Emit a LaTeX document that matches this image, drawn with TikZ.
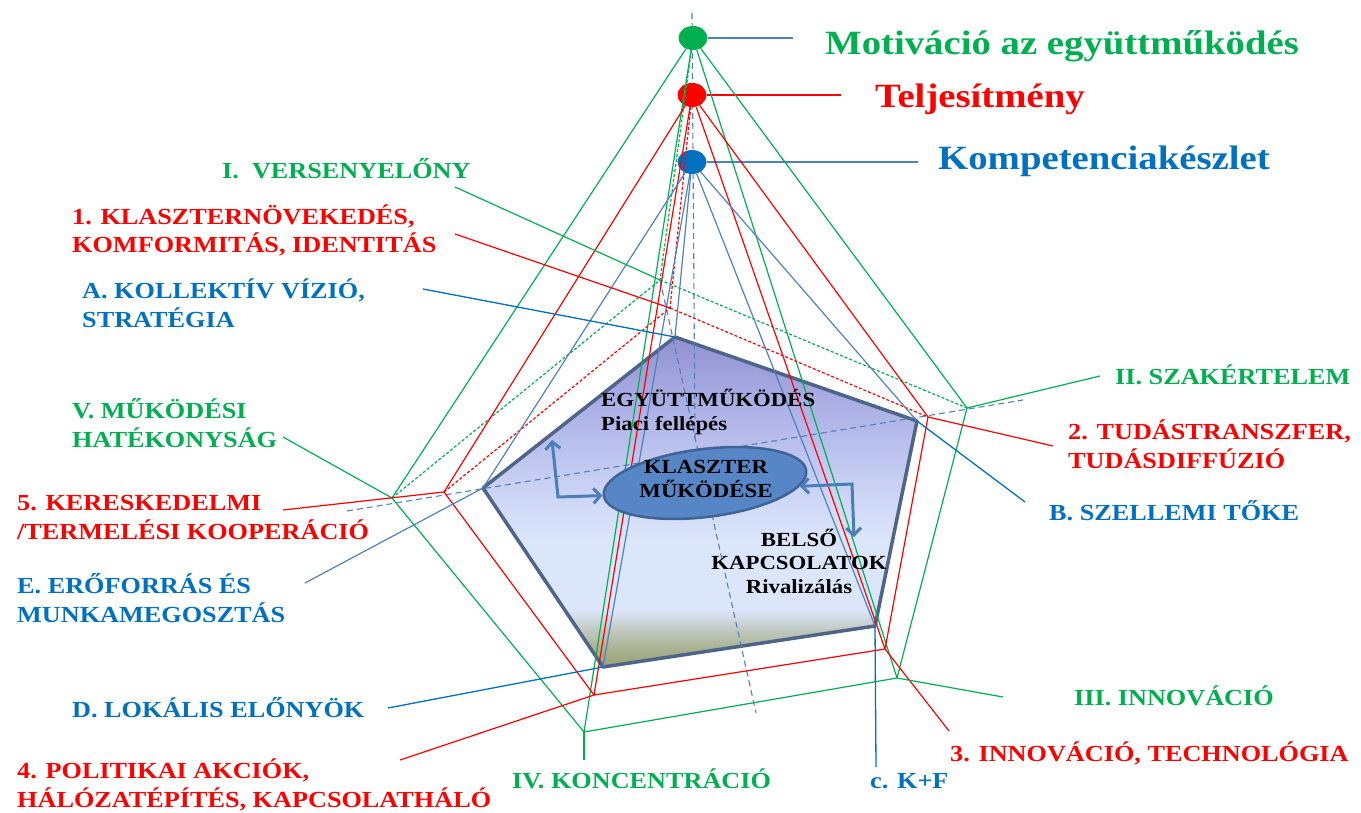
\documentclass[tikz,border=0pt]{standalone}
\usepackage{fontspec}
\setmainfont{Liberation Serif}[FakeStretch=1.14]
\usepackage{tikz}
\usetikzlibrary{arrows.meta, shapes.geometric}
\definecolor{tgreen}{HTML}{00B050}
\definecolor{tred}{HTML}{FF0000}
\definecolor{tblue}{HTML}{0070C0}
\definecolor{lblue}{HTML}{4F81BD}
\definecolor{pentedge}{HTML}{4E6589}
\definecolor{corefill}{HTML}{5686C6}
\definecolor{coreedge}{HTML}{3E6497}
\definecolor{arrowblue}{HTML}{4A7EBB}
\definecolor{ptop}{HTML}{9191D0}
\definecolor{pupper}{HTML}{A9ADE4}
\definecolor{pmid}{HTML}{BCC2EE}
\definecolor{pmid2}{HTML}{CFD7F6}
\definecolor{plight}{HTML}{DCE6FA}
\definecolor{pgreen}{HTML}{C0C8C0}
\definecolor{polive}{HTML}{A8B08E}
\definecolor{pbot}{HTML}{98A276}
\pgfdeclareverticalshading{pentshade}{100bp}{color(0bp)=(pbot); color(25bp)=(pbot); color(27.6bp)=(polive); color(30.6bp)=(pgreen); color(33.6bp)=(plight); color(44bp)=(plight); color(50.3bp)=(pmid2); color(57.9bp)=(pmid); color(65.5bp)=(pupper); color(75bp)=(ptop); color(100bp)=(ptop)}
\tikzset{apex/.style = {shape = ellipse, minimum width = 29pt, minimum height = 24pt, inner sep = 0pt}}
\tikzset{gedge/.style = {draw = tgreen, line width = 1.2pt}}
\tikzset{redge/.style = {draw = tred, line width = 1.2pt}}
\tikzset{bedge/.style = {draw = lblue, line width = 1.2pt}}
\tikzset{lead/.style = {draw = tblue, line width = 1.3pt}}
\tikzset{hiddenedge/.style = {dash pattern = on 3pt off 2pt}}
\tikzset{axisline/.style = {draw = lblue, line width = 1.1pt, dash pattern = on 6pt off 4pt}}
\tikzset{pentline/.style = {draw = pentedge, line width = 3.5pt, line join = round}}
\tikzset{core/.style = {shape = ellipse, fill = corefill, draw = coreedge, line width = 2.5pt, minimum width = 204pt, minimum height = 68pt, inner sep = 0pt}}
\tikzset{flow/.style = {draw = arrowblue, line width = 3pt, <->, >={Straight Barb[length=7pt, width=15pt]}}}
\tikzset{sidetext/.style = {font = \fontsize{23}{28.5}\selectfont\bfseries, align = left, anchor = base west, inner sep = 0pt}}
\tikzset{toptext/.style = {font = \fontsize{34}{40}\selectfont\bfseries, anchor = base west, inner sep = 0pt}}
\tikzset{intext/.style = {font = \fontsize{20}{23.5}\selectfont\bfseries, inner sep = 0pt}}

\begin{document}
\begin{tikzpicture}[x = 1pt, y = -1pt]
	\useasboundingbox (0, 0) rectangle (1361, 813);

	% bases of the three pyramids
	\coordinate (gK) at (660, 280);
	\coordinate (gR) at (967, 408);
	\coordinate (gBR) at (897, 678);
	\coordinate (gBL) at (584, 732);
	\coordinate (gL) at (392, 498);
	\coordinate (rK) at (670, 308);
	\coordinate (rR) at (928, 417);
	\coordinate (rBR) at (885, 649);
	\coordinate (rBL) at (594, 695);
	\coordinate (rL) at (444, 492);
	\coordinate (p1) at (675, 337);
	\coordinate (p2) at (917, 421);
	\coordinate (p3) at (875, 626);
	\coordinate (p4) at (603, 667);
	\coordinate (p5) at (483, 488);

	% axes
	\coordinate (axT) at (692, 13);
	\coordinate (axC) at (695, 440);
	\coordinate (axB) at (756, 713);
	\coordinate (axL) at (347, 511);
	\coordinate (axR) at (1023, 400);

	% free ends of the leaders
	\coordinate (gtag) at (793, 38);
	\coordinate (rtag) at (841, 95);
	\coordinate (btag) at (918, 162);
	\coordinate (endI) at (455, 187);
	\coordinate (end1) at (455, 234);
	\coordinate (endA) at (423, 289);
	\coordinate (endV) at (283, 437);
	\coordinate (end5) at (283, 510);
	\coordinate (endE) at (305, 583);
	\coordinate (endD) at (388, 708);
	\coordinate (end4) at (400, 760);
	\coordinate (endIV) at (584, 760);
	\coordinate (endC) at (876, 767);
	\coordinate (end3) at (949, 731);
	\coordinate (endIII) at (1003, 697);
	\coordinate (endB) at (1025, 502);
	\coordinate (end2) at (1053, 446);
	\coordinate (endII) at (1100, 376);

	\shade[shading = pentshade] (p1) -- (p2) -- (p3) -- (p4) -- (p5) -- cycle;
	\draw[pentline] (p1) -- (p2) -- (p3) -- (p4) -- (p5) -- cycle;

	\draw[axisline] (axT) to (axC);
	\draw[axisline] (gK) to (axB);
	\draw[axisline] (axL) to (axR);

	\node[apex, fill = tgreen] (gA) at (693, 38) {};
	\node[apex, fill = tred] (rA) at (692, 95) {};
	\node[apex, fill = tblue] (bA) at (692, 162) {};

	\draw[bedge] (gA) to (gtag);
	\draw[redge] (rA) to (rtag);
	\draw[bedge] (bA) to (btag);

	% green pyramid
	\draw[gedge] (gA) to (gL);
	\draw[gedge] (gA) to (gBL);
	\draw[gedge] (gA) to (gBR);
	\draw[gedge] (gA) to (gR);
	\draw[gedge, hiddenedge] (gA) to (gK);
	\draw[gedge] (gL) to (gBL);
	\draw[gedge] (gBL) to (gBR);
	\draw[gedge] (gBR) to (gR);
	\draw[gedge, hiddenedge] (gL) to (gK);
	\draw[gedge, hiddenedge] (gK) to (gR);

	% red pyramid
	\draw[redge] (rA) to (rL);
	\draw[redge] (rA) to (rBL);
	\draw[redge] (rA) to (rBR);
	\draw[redge] (rA) to (rR);
	\draw[redge, hiddenedge] (rA) to (rK);
	\draw[redge] (rL) to (rBL);
	\draw[redge] (rBL) to (rBR);
	\draw[redge] (rBR) to (rR);
	\draw[redge, hiddenedge] (rL) to (rK);
	\draw[redge, hiddenedge] (rK) to (rR);

	% blue pyramid
	\draw[bedge] (bA) to (p5);
	\draw[bedge] (bA) to (p4);
	\draw[bedge] (bA) to (p3);
	\draw[bedge] (bA) to (p2);
	\draw[bedge] (bA) to (p1);

	% leaders
	\draw[gedge] (gK) to (endI);
	\draw[redge] (rK) to (end1);
	\draw[lead] (p1) to (endA);
	\draw[gedge] (gL) to (endV);
	\draw[redge] (rL) to (end5);
	\draw[bedge] (p5) to (endE);
	\draw[lead] (p4) to (endD);
	\draw[redge] (rBL) to (end4);
	\draw[gedge] (gBL) to (endIV);
	\draw[lead] (p3) to (endC);
	\draw[redge] (rBR) to (end3);
	\draw[gedge] (gBR) to (endIII);
	\draw[lead] (p2) to (endB);
	\draw[redge] (rR) to (end2);
	\draw[gedge] (gR) to (endII);

	% core of the cluster
	\node[core, rotate = 7] (core) at (705, 483) {};
	\node[intext, align = center, anchor = base] (coretext) at (706, 497) {KLASZTER\\MŰKÖDÉSE};
	\node[intext, align = left, anchor = base west] (coop) at (601, 430) {EGYÜTTMŰKÖDÉS\\Piaci fellépés};
	\node[intext, align = center, anchor = base] (inner) at (799, 593) {BELSŐ\\KAPCSOLATOK\\Rivalizálás};

	\coordinate (ltip) at (552, 440);
	\coordinate (lcorner) at (558, 497);
	\coordinate (rcorner) at (852, 484);
	\coordinate (rtip) at (854, 537);
	\draw[flow] (ltip) -- (lcorner) -- (core.west);
	\draw[flow] (core.-9) -- (rcorner) -- (rtip);

	% labels
	\node[toptext, text = tgreen] (motiv) at (825, 55) {Motiváció az együttműködés};
	\node[toptext, text = tred] (perf) at (875, 108) {Teljesítmény};
	\node[toptext, text = tblue] (comp) at (938, 170) {Kompetenciakészlet};

	\node[sidetext, text = tgreen] (labI) at (222, 179) {I.\ \ VERSENYELŐNY};
	\node[sidetext, text = tred] (lab1) at (72, 253) {1. KLASZTERNÖVEKEDÉS,\\KOMFORMITÁS, IDENTITÁS};
	\node[sidetext, text = tblue] (labA) at (82, 327) {A. KOLLEKTÍV VÍZIÓ,\\STRATÉGIA};
	\node[sidetext, text = tgreen] (labV) at (72, 447) {V. MŰKÖDÉSI\\HATÉKONYSÁG};
	\node[sidetext, text = tred] (lab5) at (17, 539) {5. KERESKEDELMI\\/TERMELÉSI KOOPERÁCIÓ};
	\node[sidetext, text = tblue] (labE) at (17, 622) {E. ERŐFORRÁS ÉS\\MUNKAMEGOSZTÁS};
	\node[sidetext, text = tblue] (labD) at (72, 717) {D. LOKÁLIS ELŐNYÖK};
	\node[sidetext, text = tred] (lab4) at (17, 807) {4. POLITIKAI AKCIÓK,\\HÁLÓZATÉPÍTÉS, KAPCSOLATHÁLÓ};
	\node[sidetext, text = tgreen] (labIV) at (512, 788) {IV. KONCENTRÁCIÓ};
	\node[sidetext, text = tblue] (labC) at (870, 788) {c. K+F};
	\node[sidetext, text = tred] (lab3) at (950, 761) {3. INNOVÁCIÓ, TECHNOLÓGIA};
	\node[sidetext, text = tgreen] (labIII) at (1074, 705) {III. INNOVÁCIÓ};
	\node[sidetext, text = tblue] (labB) at (1049, 520) {B. SZELLEMI TŐKE};
	\node[sidetext, text = tred] (lab2) at (1068, 468) {2. TUDÁSTRANSZFER,\\TUDÁSDIFFÚZIÓ};
	\node[sidetext, text = tgreen] (labII) at (1115, 384) {II. SZAKÉRTELEM};
\end{tikzpicture}
\end{document}
